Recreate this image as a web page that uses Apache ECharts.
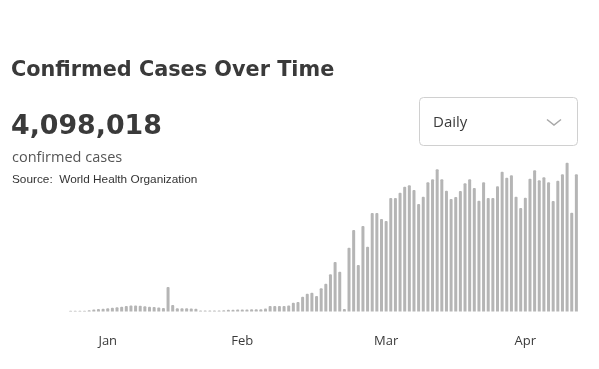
<!DOCTYPE html>
<html>
<head>
<meta charset="utf-8">
<script src="https://cdn.jsdelivr.net/npm/echarts@6/dist/echarts.min.js"></script>
<style>
html,body{margin:0;padding:0;background:#fff;}
#chart{width:599px;height:369px;}
</style>
</head>
<body>
<div id="chart"></div>
<script>
// Daily confirmed cases, one bar per day
const dailyCases = [
  500, 500, 500, 500, 800, 1200, 1500, 1700, 2000, 2300,
  2600, 2900, 3300, 3600, 3600, 3400, 3100, 2900, 2700, 2400,
  2100, 14700, 3900, 2000, 1900, 1900, 1800, 1700, 600, 600,
  600, 600, 600, 700, 1000, 1100, 1200, 1200, 1200, 1400,
  1400, 1400, 1800, 3300, 3300, 3300, 3300, 3600, 5300, 5700,
  8900, 10700, 11300, 9300, 13900, 16700, 22300, 29700, 23900, 1500,
  38300, 48900, 27900, 51300, 38900, 59100, 59100, 55500, 54300, 68100,
  68100, 71300, 74900, 75900, 72900, 64500, 68900, 77700, 79500, 85500,
  79500, 72500, 67500, 68700, 72300, 77100, 79500, 74100, 66500, 77700,
  68100, 68100, 75300, 83900, 80300, 81900, 68900, 62100, 68300, 79700,
  84900, 78900, 80700, 77700, 66300, 78500, 82500, 89300, 59300, 82500
];
// Day categories (index of each day)
const days = dailyCases.map((_, i) => 'd' + i);
// Month tick labels and the day index where each is shown
const monthLabels = ['Jan', 'Feb', 'Mar', 'Apr'];
const monthLabelDays = [8, 37, 68, 98];

const totalText = '4,098,018';
const titleText = 'Confirmed Cases Over Time';
const subText = 'confirmed cases';
const sourceText = 'Source:  World Health Organization';
const dropdownText = 'Daily';

const chart = echarts.init(document.getElementById('chart'), null, {renderer: 'canvas'});
const font = '"Open Sans", "Noto Sans", sans-serif';
const boldFont = '"DejaVu Sans", "Open Sans", sans-serif';
chart.setOption({
  animation: false,
  backgroundColor: '#ffffff',
  grid: {left: 68.3, right: 20.3, top: 145, bottom: 57.5, containLabel: false},
  xAxis: {
    type: 'category',
    data: days,
    axisLine: {show: false},
    axisTick: {show: false},
    axisLabel: {
      interval: function (idx) { return monthLabelDays.indexOf(idx) >= 0; },
      formatter: function (v, idx) {
        const k = monthLabelDays.indexOf(idx);
        return k >= 0 ? monthLabels[k] : '';
      },
      margin: 23,
      color: '#3a3a3a',
      fontSize: 13,
      fontFamily: font
    }
  },
  yAxis: {
    type: 'value', min: 0, max: 100000, show: false,
    splitLine: {show: false}
  },
  series: [{
    type: 'bar',
    data: dailyCases,
    barWidth: 3,
    itemStyle: {color: '#b5b5b5', borderRadius: [1, 1, 0, 0]}
  }],
  graphic: [
    {type: 'text', x: 11, y: 71, style: {text: titleText, fontSize: 20.8, fontWeight: 'bold', fontFamily: boldFont, fill: '#3a3a3a', verticalAlign: 'middle'}},
    {type: 'text', x: 11, y: 127, style: {text: totalText, fontSize: 26.8, fontWeight: 'bold', fontFamily: boldFont, fill: '#3a3a3a', verticalAlign: 'middle'}},
    {type: 'text', x: 12, y: 157.5, style: {text: subText, fontSize: 14.5, fontFamily: font, fill: '#555555', verticalAlign: 'middle'}},
    {type: 'text', x: 12, y: 180, style: {text: sourceText, fontSize: 11.8, fontFamily: '"Liberation Sans", Arial, sans-serif', fill: '#333333', verticalAlign: 'middle'}},
    {type: 'rect', shape: {x: 419.5, y: 97.5, width: 158, height: 48, r: 4}, style: {fill: '#ffffff', stroke: '#d0d0d0', lineWidth: 1}},
    {type: 'text', x: 433, y: 123, style: {text: dropdownText, fontSize: 15, fontFamily: font, fill: '#3a3a3a', verticalAlign: 'middle'}},
    {type: 'polyline', shape: {points: [[547, 119.5], [554, 125], [561, 119.5]]}, style: {stroke: '#a8a8a8', lineWidth: 1.5, fill: null}}
  ]
});
</script>
</body>
</html>
